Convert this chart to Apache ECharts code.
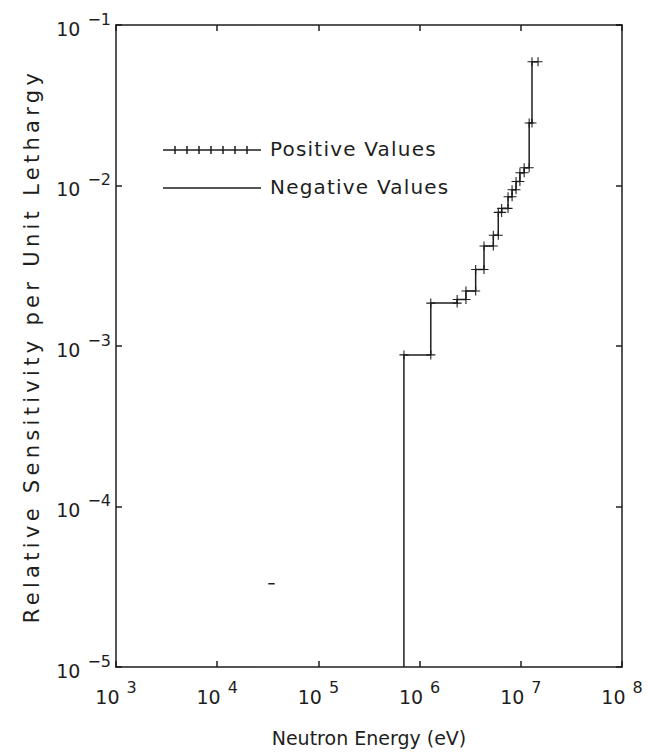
<!DOCTYPE html>
<html><head><meta charset="utf-8">
<script src="https://cdn.jsdelivr.net/npm/echarts@6/dist/echarts.min.js"></script>
<style>html,body{margin:0;padding:0;background:#fff}#c{width:647px;height:752px}</style>
</head><body><div id="c"></div>
<script>
// Bin edges (eV) and relative sensitivity per unit lethargy for each bin
const binEdges = [7.0e5, 1.29e6, 2.35e6, 2.87e6, 3.58e6, 4.33e6, 5.35e6, 5.99e6, 6.47e6, 7.48e6, 8.2e6, 8.97e6, 9.8e6, 1.08e7, 1.21e7, 1.29e7, 1.48e7];
const positiveValues = [8.8e-4, 1.85e-3, 1.95e-3, 2.2e-3, 3.0e-3, 4.2e-3, 4.9e-3, 6.8e-3, 7.2e-3, 8.5e-3, 9.4e-3, 1.06e-2, 1.2e-2, 1.29e-2, 2.45e-2, 5.9e-2];
const negativeEdges = [3.2e4, 3.7e4];
const negativeValues = [3.3e-5];
const xRange = [1e3, 1e8];
const yRange = [1e-5, 1e-1];
const xTitle = 'Neutron Energy (eV)';
const yTitle = 'Relative Sensitivity per Unit Lethargy';
const legendLabels = ['Positive Values', 'Negative Values'];

const FONT = "'DejaVu Sans',sans-serif";
const INK = '#1e1e1e';
const CROSS = 'path://M-0.12,-1L0.12,-1L0.12,-0.12L1,-0.12L1,0.12L0.12,0.12L0.12,1L-0.12,1L-0.12,0.12L-1,0.12L-1,-0.12L-0.12,-0.12Z';

function stepData(edges, vals, baseline) {
  const out = [];
  if (baseline != null) out.push({value: [edges[0], baseline], symbol: 'none'});
  for (let i = 0; i < vals.length; i++) {
    out.push([edges[i], vals[i]]);
    out.push([edges[i + 1], vals[i]]);
  }
  return out;
}
const posData = stepData(binEdges, positiveValues, yRange[0]);
const negData = stepData(negativeEdges, negativeValues, null);

function powLabel(v) {
  const e = Math.round(Math.log10(v));
  return '{b|10}{e|' + (e < 0 ? '\u2212' + (-e) : e) + '}';
}
const rich = {
  b: {fontFamily: FONT, fontSize: 19, color: INK, lineHeight: 36, verticalAlign: 'bottom', padding: [0, 0, 5, 0]},
  e: {fontFamily: FONT, fontSize: 16, color: INK, lineHeight: 36, verticalAlign: 'top', padding: [4, 0, 0, 7]}
};
const axisLine = {show: true, lineStyle: {color: INK, width: 1.5}};
const tick = {show: true, inside: true, length: 6, lineStyle: {color: INK, width: 1.5}};

const chart = echarts.init(document.getElementById('c'), null, {renderer: 'svg'});
chart.setOption({
  backgroundColor: '#fff',
  animation: false,
  grid: {left: 116, right: 25, top: 25, bottom: 85},
  xAxis: [
    {type: 'log', logBase: 10, min: xRange[0], max: xRange[1], interval: 1, position: 'bottom',
     axisLine, axisTick: tick, splitLine: {show: false}, minorTick: {show: false},
     axisLabel: {formatter: powLabel, rich, margin: 8},
     name: xTitle, nameLocation: 'middle', nameGap: 61,
     nameTextStyle: {fontFamily: FONT, fontSize: 19, color: INK}},
    {type: 'log', logBase: 10, min: xRange[0], max: xRange[1], interval: 1, position: 'top',
     axisLine, axisTick: tick, splitLine: {show: false}, axisLabel: {show: false}}
  ],
  yAxis: [
    {type: 'log', logBase: 10, min: yRange[0], max: yRange[1], interval: 1, position: 'left',
     axisLine, axisTick: tick, splitLine: {show: false},
     axisLabel: {formatter: powLabel, rich, margin: 5},
     name: yTitle, nameLocation: 'middle', nameGap: 74, nameRotate: 90,
     nameTextStyle: {fontFamily: FONT, fontSize: 21, color: INK}},
    {type: 'log', logBase: 10, min: yRange[0], max: yRange[1], interval: 1, position: 'right',
     axisLine, axisTick: tick, splitLine: {show: false}, axisLabel: {show: false}}
  ],
  series: [
    {name: legendLabels[0], type: 'line', data: posData, symbol: CROSS, symbolSize: 9, showSymbol: true,
     lineStyle: {color: INK, width: 1.5}, itemStyle: {color: INK}},
    {name: legendLabels[1], type: 'line', data: negData, symbol: 'none',
     lineStyle: {color: INK, width: 1.5}}
  ],
  graphic: [
    {type: 'line', shape: {x1: 163, y1: 150, x2: 261, y2: 150}, style: {stroke: INK, lineWidth: 1.5}},
    ...[175, 187, 199, 211, 223, 235, 247].map(x => (
      {type: 'line', shape: {x1: x, y1: 146, x2: x, y2: 154}, style: {stroke: INK, lineWidth: 1.5}}
    )),
    {type: 'text', left: 270, top: 139, style: {text: legendLabels[0], font: "20px " + FONT, fill: INK}},
    {type: 'line', shape: {x1: 163, y1: 188, x2: 261, y2: 188}, style: {stroke: INK, lineWidth: 1.5}},
    {type: 'text', left: 270, top: 177, style: {text: legendLabels[1], font: "20px " + FONT, fill: INK}}
  ]
});

// Letter spacing to match the spaced technical lettering of the original
const spacing = {};
spacing[yTitle] = 4.3;
spacing[legendLabels[0]] = 1.2;
spacing[legendLabels[1]] = 1.2;
function applySpacing() {
  document.querySelectorAll('#c svg text').forEach(t => {
    const s = spacing[t.textContent];
    if (s != null) t.setAttribute('letter-spacing', s);
  });
}
applySpacing();
chart.on('finished', applySpacing);
setTimeout(applySpacing, 50);
</script></body></html>
